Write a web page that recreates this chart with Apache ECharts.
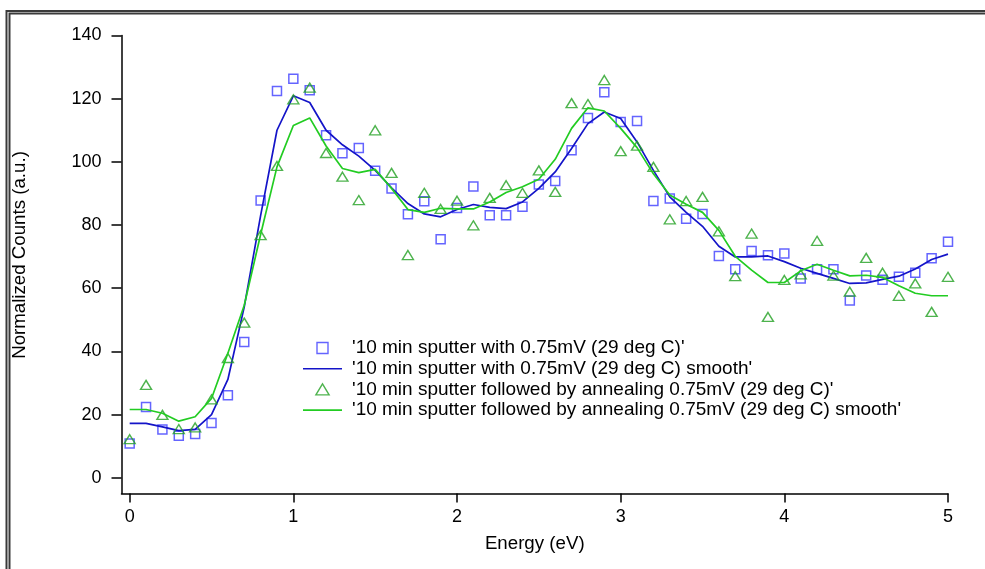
<!DOCTYPE html>
<html>
<head>
<meta charset="utf-8">
<script src="https://cdn.jsdelivr.net/npm/echarts@6/dist/echarts.min.js"></script>
<style>
html,body{margin:0;padding:0;background:#fff;}
#chart{width:985px;height:569px;}
</style>
</head>
<body>
<div id="chart"></div>
<script>
const energy = [0,0.1,0.2,0.3,0.4,0.5,0.6,0.7,0.8,0.9,1.0,1.1,1.2,1.3,1.4,1.5,1.6,1.7,1.8,1.9,2.0,2.1,2.2,2.3,2.4,2.5,2.6,2.7,2.8,2.9,3.0,3.1,3.2,3.3,3.4,3.5,3.6,3.7,3.8,3.9,4.0,4.1,4.2,4.3,4.4,4.5,4.6,4.7,4.8,4.9,5.0];
const sputterPoints = [10.8,22.4,15.3,13.3,13.8,17.3,26.1,43.0,87.8,122.4,126.3,122.7,108.4,102.7,104.4,97.2,91.6,83.4,87.5,75.5,85.4,92.2,83.1,83.1,85.8,92.8,93.9,103.7,113.9,122.0,112.6,112.9,87.6,88.4,82.0,83.5,70.2,66.0,71.8,70.4,71.0,63.1,66.0,66.0,56.1,64.0,62.7,63.6,64.9,69.5,74.7];
const sputterSmooth = [17.2,17.2,16.1,14.9,15.3,20.0,31.1,54.1,83.0,110.0,120.9,118.8,110.0,105.4,101.8,97.3,91.8,86.8,83.5,82.6,84.9,86.5,85.6,85.2,87.3,91.6,96.8,104.2,112.1,115.8,113.7,106.3,97.3,88.9,84.0,79.6,73.3,69.9,69.9,70.2,68.4,66.3,64.7,63.1,61.5,61.7,62.8,63.8,66.1,69.1,70.8];
const annealPoints = [12.2,29.4,19.9,15.4,15.9,24.8,37.9,49.1,76.8,98.7,119.8,123.5,102.8,95.3,87.9,110.0,96.5,70.5,90.2,85.1,87.7,79.9,88.6,92.6,90.2,97.3,90.5,118.6,118.3,125.9,103.4,105.1,98.4,81.8,87.6,88.9,78.0,63.8,77.3,50.9,62.6,64.4,75.0,64.0,58.9,69.6,64.9,57.6,61.5,52.5,63.6];
const annealSmooth = [21.6,21.6,20.4,17.9,19.3,25.1,39.4,54.6,77.0,98.4,111.5,113.9,105.0,97.9,96.6,97.6,91.6,84.9,84.0,85.3,85.1,85.1,87.3,90.3,92.1,94.5,100.8,110.6,117.1,116.1,110.6,104.5,96.2,89.5,86.6,84.0,78.3,70.1,65.7,61.8,61.8,65.5,67.6,65.7,63.9,64.1,63.4,60.8,58.4,57.6,57.6];
const xTicks = [0,1,2,3,4,5];
const yTicks = [0,20,40,60,80,100,120,140];
const names = [
  "'10 min sputter with 0.75mV (29 deg C)'",
  "'10 min sputter with 0.75mV (29 deg C) smooth'",
  "'10 min sputter followed by annealing 0.75mV (29 deg C)'",
  "'10 min sputter followed by annealing 0.75mV (29 deg C) smooth'"
];
const xTitle = 'Energy (eV)';
const yTitle = 'Normalized Counts (a.u.)';

const pair = (xs, ys) => xs.map((x, i) => [x, ys[i]]);
const FONT = 'Liberation Sans, Arial, sans-serif';
const BLUE_M = '#3d3dff', BLUE_L = '#1414c8', GREEN_M = '#22a022', GREEN_L = '#22cc22';
const ICON_SQUARE = 'path://M0,0 L9,0 L9,9 L0,9 Z';
const ICON_TRI = 'path://M6,0 L12,10 L0,10 Z';
const ICON_LINE = 'path://M0,0 L39,0 L39,1.6 L0,1.6 Z';

const chart = echarts.init(document.getElementById('chart'), null, {renderer: 'canvas'});
chart.setOption({
  animation: false,
  backgroundColor: '#fff',
  textStyle: {fontFamily: FONT},
  grid: {left: 121.5, right: 37, top: 35.5, bottom: 75.5, containLabel: false},
  xAxis: {
    type: 'value', min: -0.05, max: 5,
    name: xTitle, nameLocation: 'middle', nameGap: 41,
    nameTextStyle: {fontSize: 18.7, color: '#000', fontFamily: FONT},
    axisLine: {show: true, onZero: false, lineStyle: {color: '#000', width: 1.5}},
    axisTick: {show: true, inside: false, length: 9, customValues: xTicks, lineStyle: {color: '#000', width: 1.5}},
    axisLabel: {customValues: xTicks, fontSize: 18, color: '#000', margin: 15, fontFamily: FONT},
    splitLine: {show: false}
  },
  yAxis: {
    type: 'value', min: -5, max: 140,
    axisLine: {show: true, onZero: false, lineStyle: {color: '#000', width: 1.5}},
    axisTick: {show: true, inside: false, length: 10, customValues: yTicks, lineStyle: {color: '#000', width: 1.5}},
    axisLabel: {customValues: yTicks, fontSize: 18, color: '#000', margin: 20, fontFamily: FONT},
    splitLine: {show: false}
  },
  legend: {
    orient: 'vertical', left: 303, top: 338, padding: 0,
    itemWidth: 39, itemHeight: 11, itemGap: 0.7, symbolKeepAspect: true,
    textStyle: {fontSize: 19, lineHeight: 20, color: '#000', fontFamily: FONT, padding: [0,0,0,5]},
    data: [
      {name: names[0], icon: ICON_SQUARE, itemStyle: {color: 'rgba(0,0,0,0)', borderColor: BLUE_M, borderWidth: 1.4}},
      {name: names[1], icon: ICON_LINE, itemStyle: {color: BLUE_L, borderWidth: 0}},
      {name: names[2], icon: ICON_TRI, itemStyle: {color: 'rgba(0,0,0,0)', borderColor: GREEN_M, borderWidth: 1.4}},
      {name: names[3], icon: ICON_LINE, itemStyle: {color: GREEN_L, borderWidth: 0}}
    ]
  },
  series: [
    {name: names[0], type: 'scatter', data: pair(energy, sputterPoints), symbol: 'rect', symbolSize: 9,
     itemStyle: {color: 'rgba(0,0,0,0)', borderColor: BLUE_M, borderWidth: 1.5}, z: 2},
    {name: names[1], type: 'line', data: pair(energy, sputterSmooth), symbol: 'none', showSymbol: false,
     lineStyle: {color: BLUE_L, width: 1.7}, itemStyle: {color: BLUE_L}, z: 3},
    {name: names[2], type: 'scatter', data: pair(energy, annealPoints), symbol: 'triangle', symbolSize: [11, 9],
     itemStyle: {color: 'rgba(0,0,0,0)', borderColor: GREEN_M, borderWidth: 1.4}, z: 4},
    {name: names[3], type: 'line', data: pair(energy, annealSmooth), symbol: 'none', showSymbol: false,
     lineStyle: {color: GREEN_L, width: 1.7}, itemStyle: {color: GREEN_L}, z: 5}
  ],
  graphic: [
    {type: 'text', x: 20, y: 255, rotation: Math.PI / 2,
     style: {text: yTitle, fontSize: 18.7, fontFamily: FONT, fill: '#000', align: 'center', verticalAlign: 'middle'}},
    {type: 'polyline', shape: {points: [[6.5, 569], [6.5, 11], [985, 11]]}, style: {stroke: '#3a3a3a', lineWidth: 2, fill: null}},
    {type: 'polyline', shape: {points: [[9.5, 569], [9.5, 13.5], [985, 13.5]]}, style: {stroke: '#3a3a3a', lineWidth: 2, fill: null}}
  ]
});
</script>
</body>
</html>
